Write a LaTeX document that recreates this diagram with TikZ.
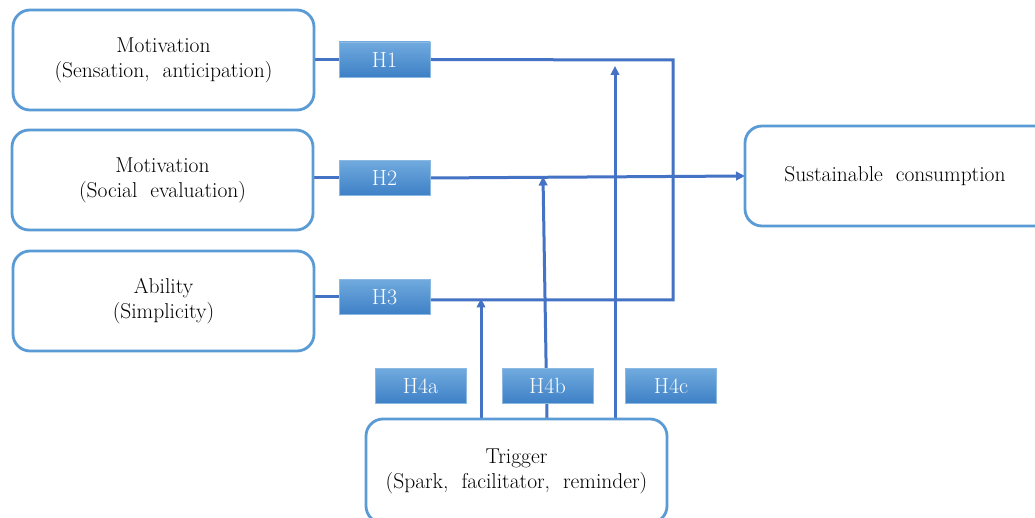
\documentclass[tikz,border=0pt]{standalone}
\usetikzlibrary{arrows.meta,backgrounds}
\definecolor{linec}{RGB}{68,114,196}
\definecolor{boxc}{RGB}{91,155,213}
\definecolor{htop}{RGB}{112,170,222}
\definecolor{hbot}{RGB}{62,128,198}
\begin{document}
\begin{tikzpicture}[x=1pt,y=-1pt,
  mainbox/.style={draw=boxc,line width=2.8pt,rounded corners=17pt,fill=white,
    minimum width=301pt,minimum height=100pt,inner sep=0pt,outer sep=0pt,
    align=center,font=\fontsize{21.5}{25}\selectfont},
  hbox/.style={draw=boxc!70,line width=0.6pt,top color=htop,bottom color=hbot,
    minimum width=91pt,minimum height=35pt,inner sep=0pt,outer sep=0pt,
    text=white,font=\fontsize{22}{24}\selectfont},
  conn/.style={draw=linec,line width=3pt},
  arr/.style={conn,-{Triangle[length=9pt,width=8.5pt]}}]
\path[use as bounding box,clip] (0,0) rectangle (1035,518);
% boxes
\node[mainbox] (m1) at (163.5,60) {Motivation\\(Sensation,\ \ anticipation)};
\node[mainbox] (m2) at (162.5,180) {Motivation\\(Social\ \ evaluation)};
\node[mainbox] (ab) at (163.5,301) {Ability\\(Simplicity)};
\node[mainbox,minimum width=312pt] (sc) at (901,176) {\hspace*{-12pt}Sustainable\ \ consumption};
\node[mainbox,minimum height=104pt] (tr) at (516.5,471) {Trigger\\(Spark,\ \ facilitator,\ \ reminder)};
% hypothesis labels
\node[hbox] (h1) at (384.5,59.5) {H1};
\node[hbox] (h2) at (384.5,178) {H2};
\node[hbox] (h3) at (384.5,297) {H3};
\node[hbox] (h4a) at (420.5,386) {H4a};
\node[hbox] (h4b) at (547.5,386) {H4b};
\node[hbox] (h4c) at (671,386) {H4c};
% junction coordinates
\coordinate (c1) at (673,60);
\coordinate (c3) at (673,300);
\coordinate (t1) at (481,300);
\coordinate (t2) at (543,178);
\coordinate (t2b) at (547,419);
\coordinate (t3) at (615,66);
% connectors (behind the labels)
\begin{pgfonlayer}{background}
\path[conn] (m1.east |- h1) -- (h1.west);
\path[conn] (m2.east |- h2) -- (h2.west);
\path[conn] (ab.east |- h3) -- (h3.west);
\path[conn] (h1.east) -- (c1) -- (c3) -- (h3.east |- c3);
\path[arr] (h2.east) -- (sc.west);
\path[arr] (tr.north -| t1) -- ([yshift=1.5pt]t1);
\path[arr] (t2b) -- ([yshift=1.5pt]t2);
\path[arr] (tr.north -| t3) -- (t3);
\end{pgfonlayer}
\end{tikzpicture}
\end{document}
